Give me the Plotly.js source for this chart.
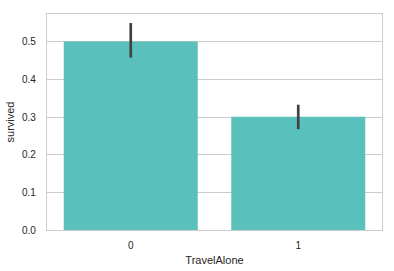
<!DOCTYPE html>
<html><head><meta charset="utf-8">
<script src="https://cdn.plot.ly/plotly-3.0.1.min.js"></script>
<style>html,body{margin:0;padding:0;background:#fff}#c{width:394px;height:271px}</style>
</head><body><div id="c"></div>
<script>
const categories = ["0", "1"];
const survived = [0.501, 0.301];
const ciUpper = [0.550, 0.333];
const ciLower = [0.458, 0.268];
const yTicks = [0.0, 0.1, 0.2, 0.3, 0.4, 0.5];

const errPlus = survived.map((v, i) => ciUpper[i] - v);
const errMinus = survived.map((v, i) => v - ciLower[i]);

const trace = {
  type: 'bar',
  x: [0, 1],
  y: survived,
  width: 0.8,
  marker: {color: 'rgb(90,192,188)', line: {width: 0}},
  error_y: {type: 'data', symmetric: false, array: errPlus, arrayminus: errMinus,
            color: '#424242', thickness: 2.7, width: 0},
  hoverinfo: 'none'
};
const font = {family: 'Liberation Sans, Arial, sans-serif', size: 10, color: '#262626'};
const layout = {
  width: 394, height: 271,
  margin: {l: 47, r: 12, t: 14, b: 41},
  paper_bgcolor: '#fff', plot_bgcolor: '#fff',
  font: font,
  showlegend: false,
  xaxis: {
    range: [-0.5, 1.5], tickvals: [0, 1], ticktext: categories,
    showgrid: false, zeroline: false,
    showline: true, mirror: true, linecolor: '#cccccc', linewidth: 1.2,
    ticks: 'outside', ticklen: 6, tickcolor: 'rgba(0,0,0,0)',
    title: {text: 'TravelAlone', font: {size: 11, color: '#262626'}, standoff: 6}
  },
  yaxis: {
    range: [0, 0.574], tickvals: yTicks, ticktext: yTicks.map(v => v.toFixed(1)),
    showgrid: true, gridcolor: '#cccccc', gridwidth: 1, zeroline: false,
    showline: true, mirror: true, linecolor: '#cccccc', linewidth: 1.2,
    ticks: 'outside', ticklen: 8, tickcolor: 'rgba(0,0,0,0)',
    title: {text: 'survived', font: {size: 11, color: '#262626'}, standoff: 5}
  }
};
Plotly.newPlot('c', [trace], layout, {staticPlot: true, displayModeBar: false});
</script></body></html>
